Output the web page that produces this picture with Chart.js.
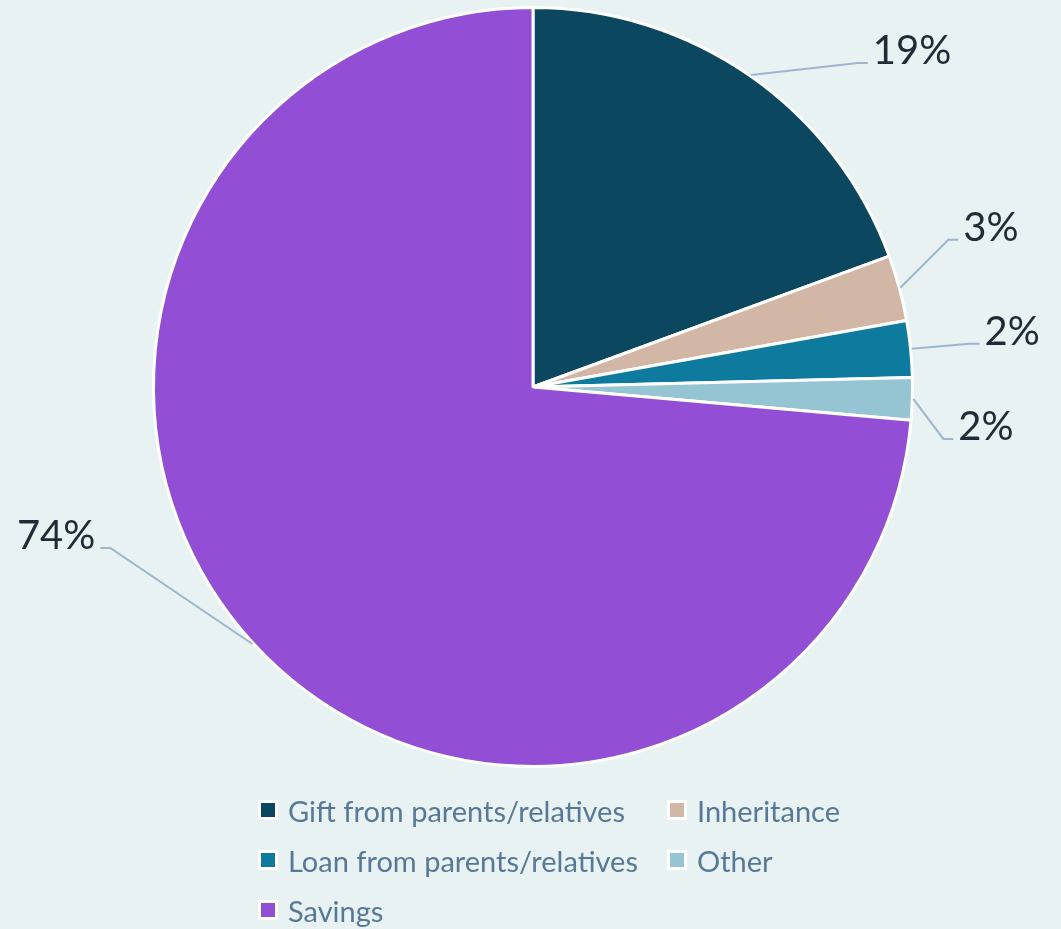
<!DOCTYPE html>
<html>
<head>
<meta charset="utf-8">
<script src="https://cdn.jsdelivr.net/npm/chart.js@4.4.1/dist/chart.umd.min.js"></script>
<style>
    html, body { margin: 0; padding: 0; background: #e8f2f3; }
    #wrap { position: relative; width: 1061px; height: 929px; overflow: hidden; }
    #sourcesChart { position: absolute; left: 0; top: 0; }
    #legend {
        position: absolute; left: 258px; top: 785px;
        display: grid; grid-template-columns: 409px auto; row-gap: 0;
        font-family: Lato, "Open Sans", sans-serif; font-weight: 400;
        font-size: 29px; color: #577898;
    }
    .item { display: flex; align-items: center; height: 50px; white-space: nowrap; }
    .box { width: 14px; height: 14px; border: 3px solid #fff; margin-right: 10px; }
</style>
</head>
<body>
<div id="wrap">
    <canvas id="sourcesChart" width="1061" height="929"></canvas>
    <div id="legend"></div>
</div>
<script>
// Sources of the down payment, share of buyers (%)
var categories = ["Gift from parents/relatives", "Inheritance", "Loan from parents/relatives", "Other", "Savings"];
var shares = [19.4, 2.8, 2.4, 1.8, 73.6];
var sliceColors = ["#0b4860", "#d2b7a6", "#0e7a9e", "#95c5d3", "#924fd5"];

// elbow of each leader line, relative to where it leaves the slice
var connectorOffsets = [[107, -12], [48, -48], [58, -5], [30, 40], [-142, -96]];

var pieLabels = {
    id: 'pieLabels',
    afterDatasetsDraw: function(chart) {
        var ctx = chart.ctx;
        var meta = chart.getDatasetMeta(0);
        ctx.save();
        ctx.font = '400 40px Lato, "Open Sans", sans-serif';
        ctx.textBaseline = 'alphabetic';
        meta.data.forEach(function(arc, i) {
            var mid = (arc.startAngle + arc.endAngle) / 2;
            var r = arc.outerRadius + 1;
            var sx = arc.x + Math.cos(mid) * r;
            var sy = arc.y + Math.sin(mid) * r;
            var ex = sx + connectorOffsets[i][0];
            var ey = sy + connectorOffsets[i][1];
            var right = ex > arc.x;
            var tx = ex + (right ? 10 : -10);

            ctx.strokeStyle = '#9db6ce';
            ctx.lineWidth = 2;
            ctx.beginPath();
            ctx.moveTo(sx, sy);
            ctx.lineTo(ex, ey);
            ctx.lineTo(tx, ey);
            ctx.stroke();

            ctx.fillStyle = '#1f2b36';
            ctx.textAlign = right ? 'left' : 'right';
            ctx.fillText(Math.round(shares[i]) + '%', tx + (right ? 5 : -5), ey + 1);
        });
        ctx.restore();
    }
};

var chart = new Chart(document.getElementById('sourcesChart'), {
    type: 'pie',
    data: {
        labels: categories,
        datasets: [{
            data: shares,
            backgroundColor: sliceColors,
            borderColor: '#ffffff',
            borderWidth: 3
        }]
    },
    options: {
        responsive: false,
        animation: false,
        layout: { padding: { top: 6, bottom: 161, left: 40, right: 35 } },
        plugins: {
            legend: { display: false },
            tooltip: { enabled: false }
        }
    },
    plugins: [pieLabels]
});

// two-column legend under the pie
var legendBox = document.getElementById('legend');
chart.options.plugins.legend.labels.generateLabels(chart).forEach(function(item) {
    var el = document.createElement('div');
    el.className = 'item';
    var box = document.createElement('span');
    box.className = 'box';
    box.style.background = item.fillStyle;
    el.appendChild(box);
    el.appendChild(document.createTextNode(item.text));
    legendBox.appendChild(el);
});
</script>
</body>
</html>
